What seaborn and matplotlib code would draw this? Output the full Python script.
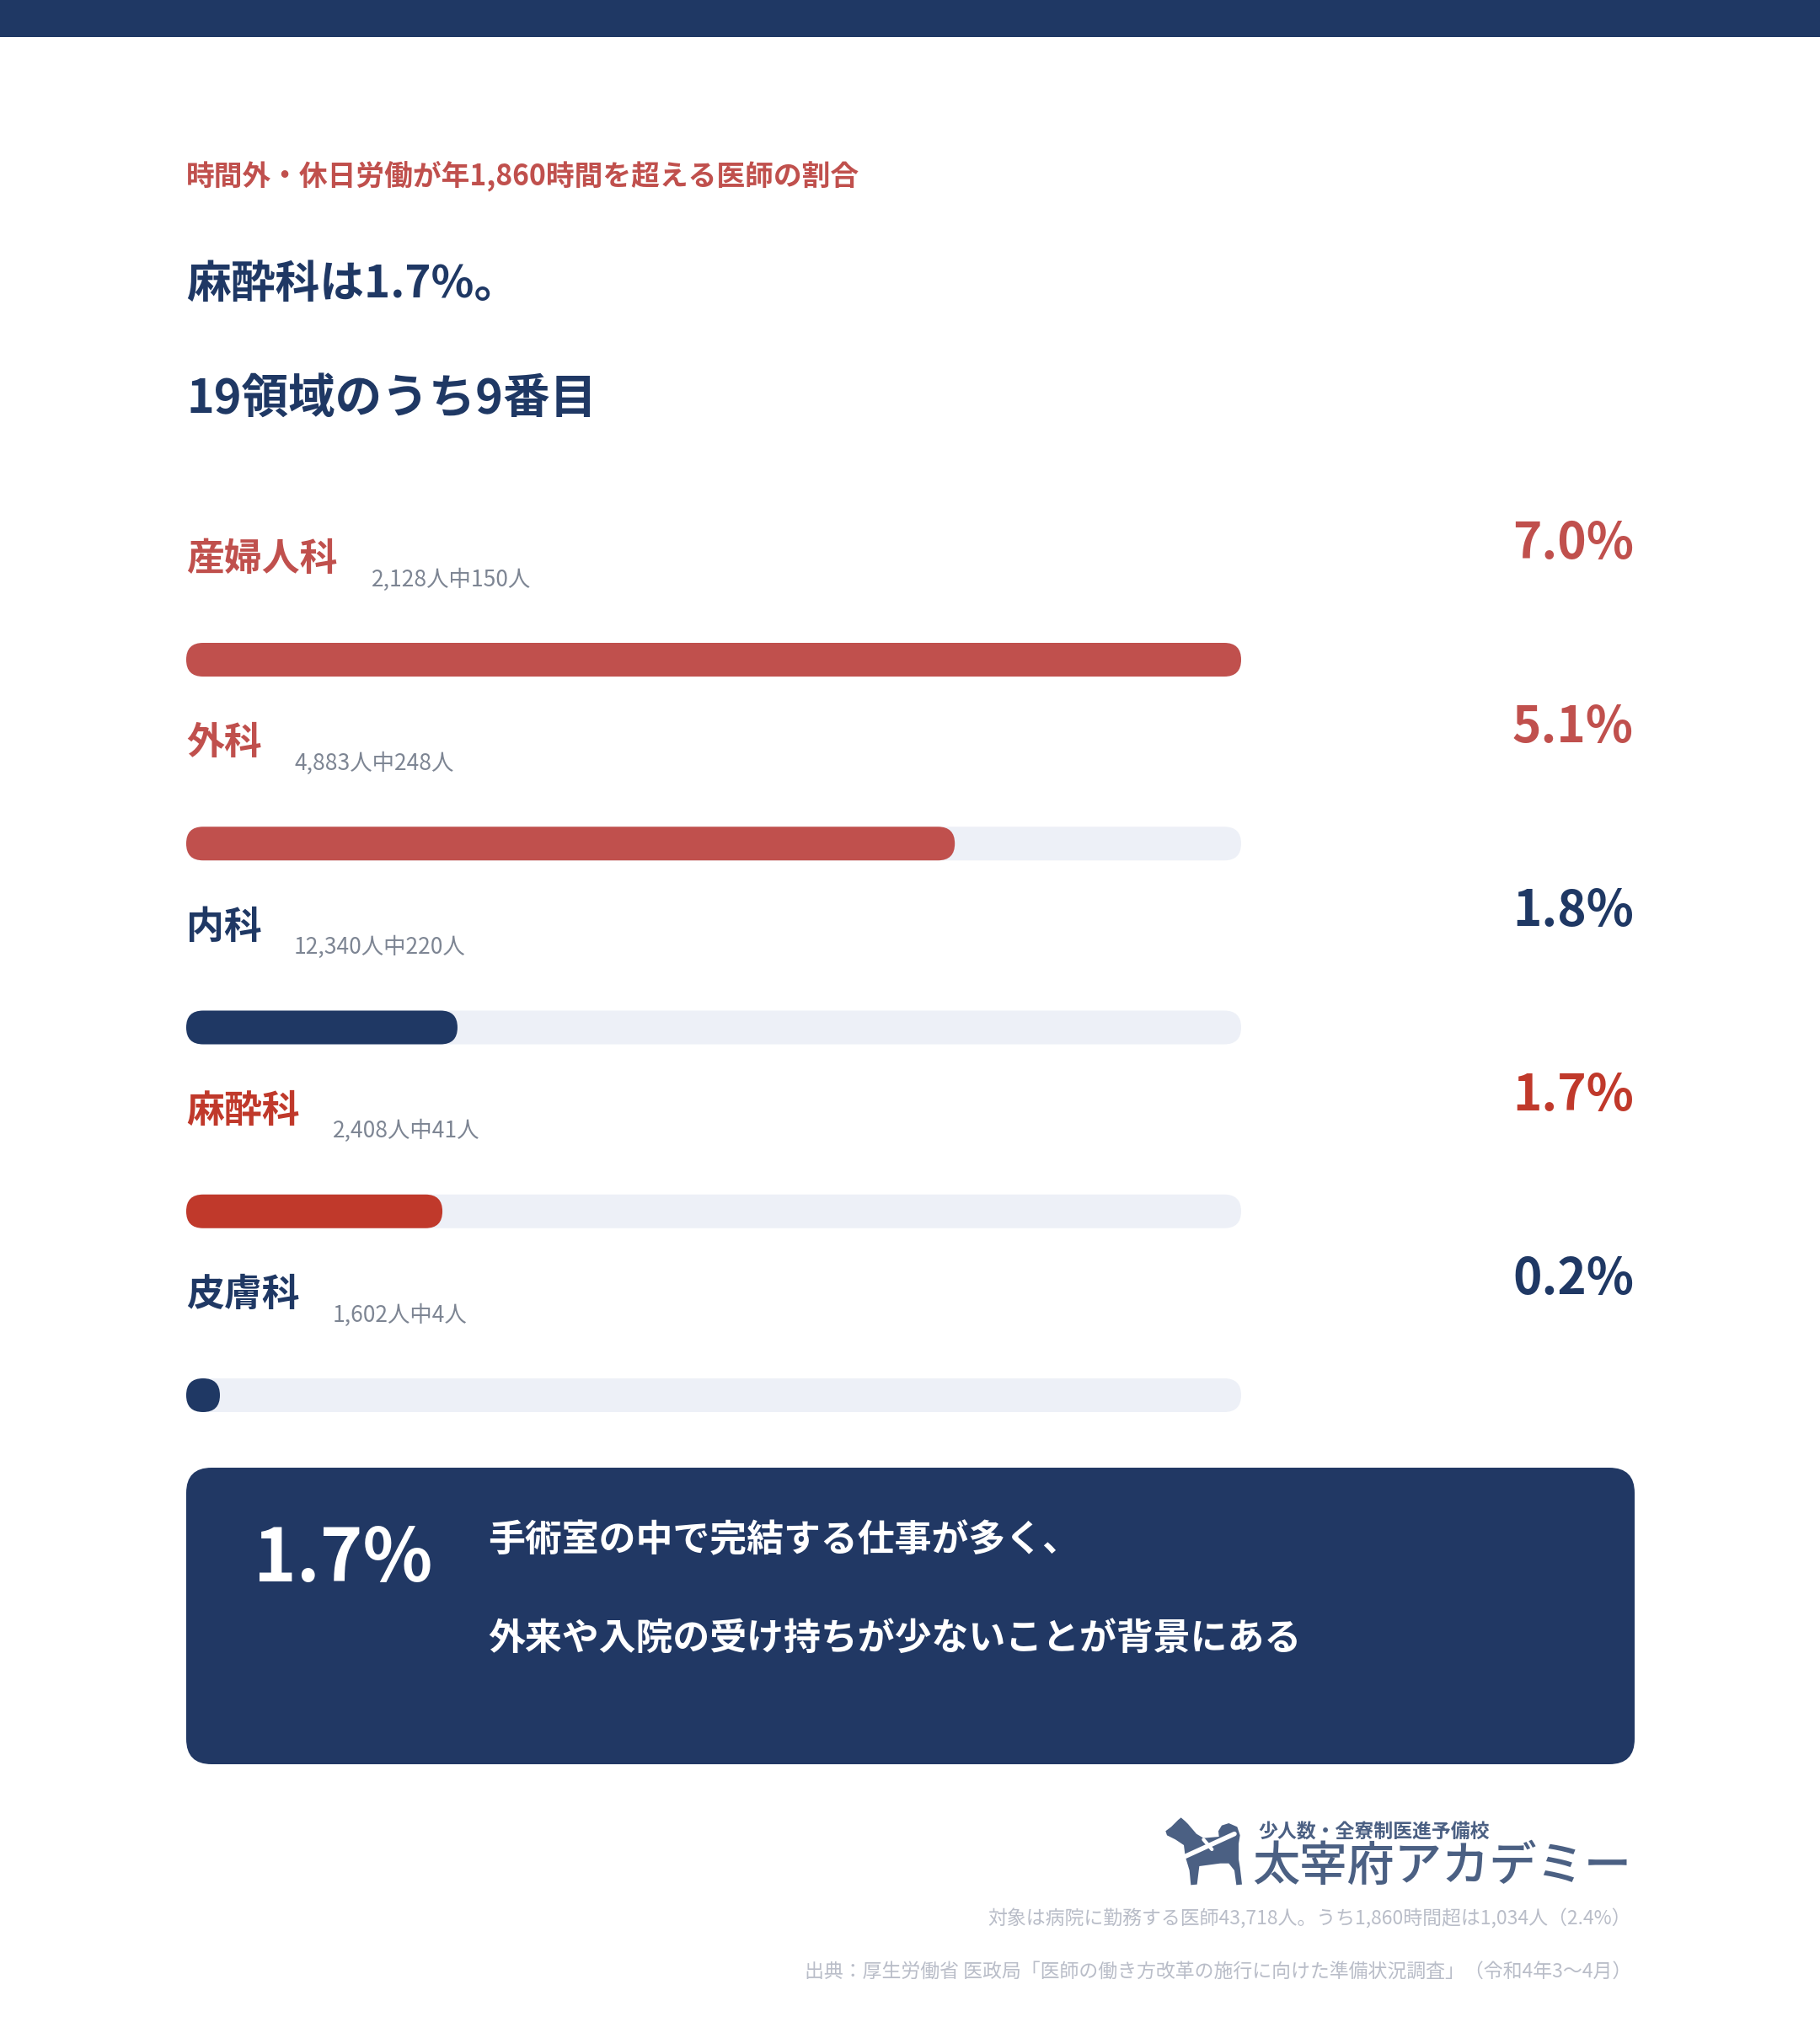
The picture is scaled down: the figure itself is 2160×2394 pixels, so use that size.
import matplotlib
matplotlib.use('Agg')
import matplotlib.pyplot as plt
import seaborn as sns
import pandas as pd
from matplotlib.patches import FancyBboxPatch, Rectangle, Polygon

# ---------------- data ----------------
departments = ['産婦人科', '外科', '内科', '麻酔科', '皮膚科']
totals = ['2,128', '4,883', '12,340', '2,408', '1,602']
over_counts = ['150', '248', '220', '41', '4']
rates = [7.0, 5.1, 1.8, 1.7, 0.2]
bar_colors = ['#c0504d', '#c0504d', '#1f3864', '#c0392b', '#1f3864']
scale_max = 7.0

subtitle = '時間外・休日労働が年1,860時間を超える医師の割合'
title1 = '麻酔科は1.7%。'
title2 = '19領域のうち9番目'
box_value = '1.7%'
box_lines = ['手術室の中で完結する仕事が多く、', '外来や入院の受け持ちが少ないことが背景にある']
logo_small = '少人数・全寮制医進予備校'
logo_big = '太宰府アカデミー'
note1 = '対象は病院に勤務する医師43,718人。うち1,860時間超は1,034人（2.4%）'
note2 = '出典：厚生労働省 医政局「医師の働き方改革の施行に向けた準備状況調査」（令和4年3〜4月）'

NAVY = '#1f3864'
TRACK = '#edf0f7'
GREY = '#7d8593'
LIGHT = '#b9bdc8'
LOGO = '#4b6083'

sns.set_theme(style='white')
plt.rcParams['font.family'] = ['Noto Sans CJK JP', 'DejaVu Sans']

W, H = 2160, 2394
fig = plt.figure(figsize=(W / 100, H / 100), dpi=100)
fig.patch.set_facecolor('white')

# background/pixel axes for text and decorations
bg = fig.add_axes([0, 0, 1, 1])
bg.set_xlim(0, W)
bg.set_ylim(H, 0)
bg.axis('off')

bg.add_patch(Rectangle((0, 0), W, 44, color=NAVY, lw=0))

bg.text(221, 209, subtitle, fontsize=24.3, fontweight='bold', color='#c0504d', va='center', ha='left')
bg.text(221, 338, title1, fontsize=38, fontweight='bold', color=NAVY, va='center', ha='left')
bg.text(221, 474, title2, fontsize=40, fontweight='bold', color=NAVY, va='center', ha='left')

# ---------------- bars ----------------
row0, step = 783, 218.25
bar_left, bar_right = 221, 1473
ax_top = row0 - step / 2
ax_bot = row0 + step * (len(departments) - 0.5)
ax = fig.add_axes([bar_left / W, 1 - ax_bot / H, (bar_right - bar_left) / W, (ax_bot - ax_top) / H])
ax.axis('off')

df = pd.DataFrame({'dept': departments, 'rate': rates, 'track': [scale_max] * len(departments)})
sns.barplot(data=df, x='track', y='dept', orient='h', color=TRACK, saturation=1, ax=ax, width=0.5)
sns.barplot(data=df, x='rate', y='dept', hue='dept', palette=bar_colors, orient='h',
            saturation=1, legend=False, ax=ax, width=0.5)
ax.set_xlim(0, scale_max)
ax.set_ylim(len(departments) - 0.5, -0.5)

# turn seaborn's rectangles into pill shapes (same positions, rounded ends)
bar_px = 40
to_bg = ax.transData + bg.transData.inverted()
for k, p in enumerate(list(ax.patches)):
    x0 = p.get_x()
    w = p.get_width()
    yc = p.get_y() + p.get_height() / 2
    (px0, pyc), (px1, _) = to_bg.transform([(x0, yc), (x0 + w, yc)])
    wpx = max(px1 - px0, bar_px)
    bg.add_patch(FancyBboxPatch((px0, pyc - bar_px / 2), wpx, bar_px,
                                boxstyle=f'round,pad=0,rounding_size={bar_px / 2}',
                                facecolor=p.get_facecolor(), edgecolor='none', zorder=2 + k * 0.01))
    p.set_visible(False)

# labels
for i, dep in enumerate(departments):
    yl = 664 + i * step
    bg.text(221, yl, dep, fontsize=32.3, fontweight='bold', color=bar_colors[i], va='center', ha='left')
    bg.text(221 + len(dep) * 46 + 36, yl + 24, f'{totals[i]}人中{over_counts[i]}人',
            fontsize=19, color=GREY, va='center', ha='left')
    bg.text(1939, 646 + i * step, f'{rates[i]:.1f}%', fontsize=42, fontweight='bold',
            color=bar_colors[i], va='center', ha='right')

# ---------------- summary box ----------------
bg.add_patch(FancyBboxPatch((221, 1742), 1719, 352, boxstyle='round,pad=0,rounding_size=30',
                            facecolor='#213864', edgecolor='none'))
bg.text(301, 1852, box_value, fontsize=62, fontweight='bold', color='white', va='center', ha='left')
bg.text(579, 1828, box_lines[0], fontsize=31.6, fontweight='bold', color='white', va='center', ha='left')
bg.text(579, 1945, box_lines[1], fontsize=31.6, fontweight='bold', color='white', va='center', ha='left')

# ---------------- logo ----------------
dog = [(40, 100), (60, 85), (85, 60), (95, 52), (110, 65), (120, 75), (150, 110), (175, 125),
       (230, 120), (228, 100), (240, 80), (265, 72), (295, 85), (305, 115), (300, 145),
       (300, 200), (305, 230), (312, 290), (292, 292), (285, 240), (265, 215), (235, 215),
       (160, 225), (152, 290), (130, 292), (125, 240), (110, 190), (105, 150), (75, 130), (45, 115)]
dog_px = [(1370 + x / 3, 2140 + y / 3) for x, y in dog]
bg.add_patch(Polygon(dog_px, closed=True, facecolor=LOGO, edgecolor='none'))
bg.plot([1370 + 110 / 3, 1370 + 285 / 3], [2140 + 190 / 3, 2140 + 110 / 3], color='white', lw=4)
bg.plot([1370 + 175 / 3, 1370 + 205 / 3], [2140 + 130 / 3, 2140 + 165 / 3], color='white', lw=3)

bg.text(1493, 2175, logo_small, fontsize=16.5, fontweight='bold', color=LOGO, va='center', ha='left')
bg.text(1486, 2216, logo_big, fontsize=40.5, fontweight='medium', color=LOGO, va='center', ha='left')

bg.text(1936, 2278, note1, fontsize=16.5, color=LIGHT, va='center', ha='right')
bg.text(1936, 2340, note2, fontsize=16.5, color=LIGHT, va='center', ha='right')

fig.savefig('out.png', dpi=100, facecolor='white')
